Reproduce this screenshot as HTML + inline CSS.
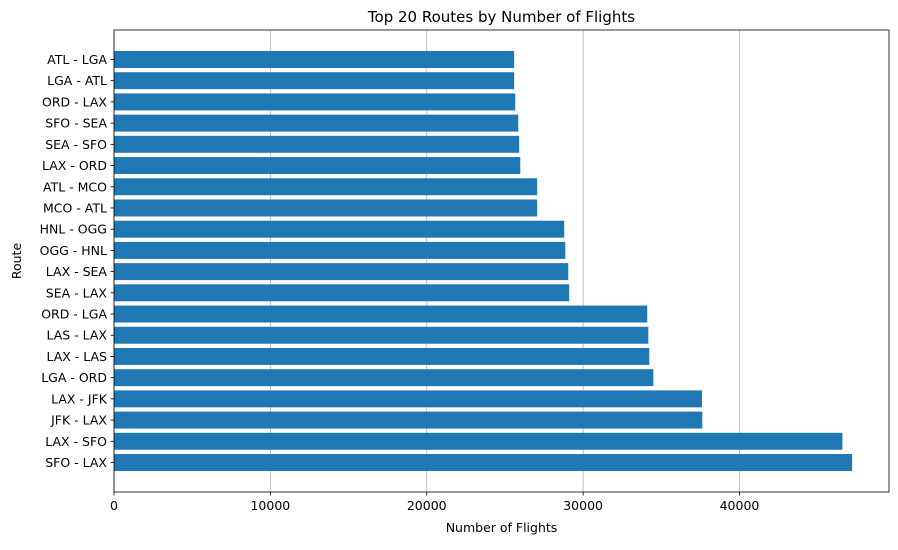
<!DOCTYPE html>
<html><head><meta charset="utf-8"><style>
body{margin:0;background:#fff;font-family:"Liberation Sans","DejaVu Sans",sans-serif;}
</style></head><body>
<svg id="chart" width="898" height="545" xmlns="http://www.w3.org/2000/svg" font-family="DejaVu Sans, Liberation Sans, sans-serif">
<rect width="898" height="545" fill="#fff"/>
<g id="grid"></g><g id="bars"></g><g id="axes"></g>
</svg>
<script>
const routes=["SFO - LAX","LAX - SFO","JFK - LAX","LAX - JFK","LGA - ORD","LAX - LAS","LAS - LAX","ORD - LGA","SEA - LAX","LAX - SEA","OGG - HNL","HNL - OGG","MCO - ATL","ATL - MCO","LAX - ORD","SEA - SFO","SFO - SEA","ORD - LAX","LGA - ATL","ATL - LGA"];
const flights=[47200,46580,37620,37600,34490,34230,34170,34100,29110,29050,28860,28790,27060,27060,25980,25910,25850,25660,25590,25590];
const xTicks=[0,10000,20000,30000,40000];
const NS="http://www.w3.org/2000/svg";
const L=114,R=889,T=30,B=492;
const xmax=Math.max(...flights)*1.05;
const x=v=>L+v/xmax*(R-L);
const n=routes.length,ymin=-1.39,ymaxv=n-1+1.39;
const y=i=>B-(i-ymin)/(ymaxv-ymin)*(B-T);
const bh=0.8*(B-T)/(ymaxv-ymin);
function mk(tag,attrs,parent,text){const e=document.createElementNS(NS,tag);for(const k in attrs)e.setAttribute(k,attrs[k]);if(text!==undefined)e.textContent=text;document.getElementById(parent).appendChild(e);return e;}
xTicks.forEach(t=>{
 const g=mk('line',{x1:x(t),x2:x(t),y1:T,y2:B,stroke:'#b0b0b0','stroke-width':0.8},'grid');
 
 
});
flights.forEach((v,i)=>{
 const r=mk('rect',{x:L,y:y(i)-bh/2,width:x(v)-L,height:bh,fill:'#1f77b4'},'bars');
 
 
 const tk=mk('line',{x1:L-3.5,x2:L,y1:y(i),y2:y(i),stroke:'#000','stroke-width':0.8},'axes');
 
 
 const lb=mk('text',{x:L-7,y:y(i)+4.5,'text-anchor':'end','font-size':12.5},'axes',routes[i]);
 
 
});
xTicks.forEach(t=>{
 const tk=mk('line',{x1:x(t),x2:x(t),y1:B,y2:B+3.5,stroke:'#000','stroke-width':0.8},'axes');
 
 
 const lb=mk('text',{x:x(t),y:B+18,'text-anchor':'middle','font-size':12.5},'axes',String(t));
 
 
});
const fr=mk('rect',{x:L,y:T,width:R-L,height:B-T,fill:'none',stroke:'#000','stroke-width':0.8},'axes');


const ti=mk('text',{x:(L+R)/2,y:22,'text-anchor':'middle','font-size':15},'axes','Top 20 Routes by Number of Flights');


const xt=mk('text',{x:(L+R)/2,y:532,'text-anchor':'middle','font-size':12.5},'axes','Number of Flights');


const yt=mk('text',{x:21,y:(T+B)/2,'text-anchor':'middle','font-size':12.5,transform:'rotate(-90 21 '+(T+B)/2+')'},'axes','Route');


</script>
</body></html>
